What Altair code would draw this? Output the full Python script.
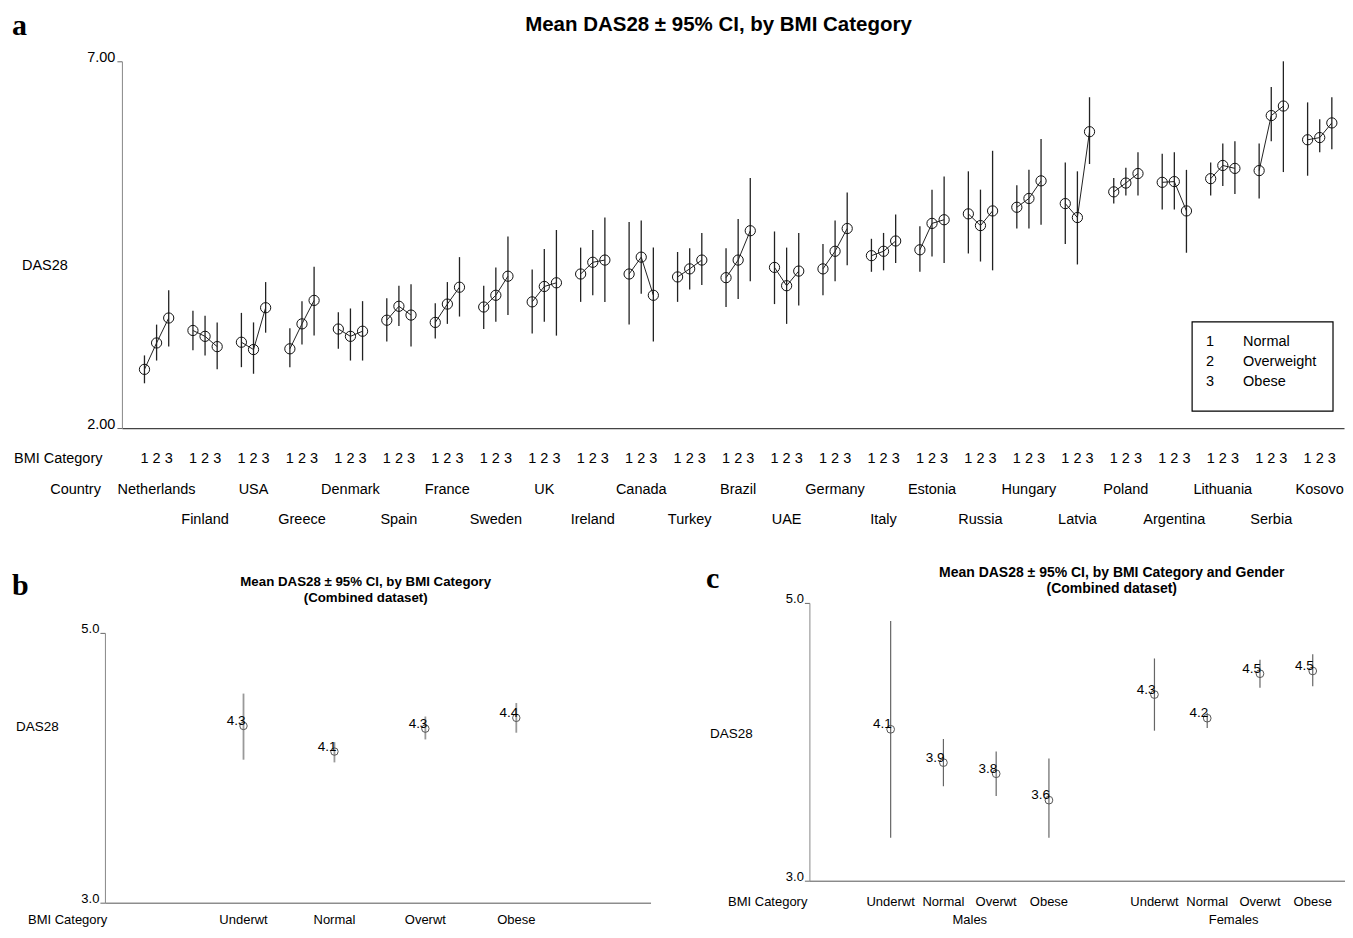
import altair as alt
import pandas as pd

FONT = "Liberation Sans"
SERIF = "Liberation Serif"

# ---------------- data: panel a ----------------
countries = ["Netherlands", "Finland", "USA", "Greece", "Denmark", "Spain", "France",
             "Sweden", "UK", "Ireland", "Canada", "Turkey", "Brazil", "UAE", "Germany",
             "Italy", "Estonia", "Russia", "Hungary", "Latvia", "Poland", "Argentina",
             "Lithuania", "Serbia", "Kosovo"]
bmi_codes = ["1", "2", "3"]
bmi_names = ["Normal", "Overweight", "Obese"]

mean_normal = [2.80, 3.33, 3.17, 3.08, 3.35, 3.47, 3.44, 3.65, 3.72, 4.10, 4.10, 4.06, 4.05,
               4.19, 4.17, 4.35, 4.43, 4.92, 5.01, 5.06, 5.22, 5.35, 5.40, 5.51, 5.93]
mean_overweight = [3.16, 3.25, 3.07, 3.42, 3.25, 3.66, 3.69, 3.81, 3.93, 4.26, 4.33, 4.17, 4.29,
                   3.94, 4.41, 4.41, 4.79, 4.76, 5.13, 4.87, 5.34, 5.36, 5.58, 6.26, 5.96]
mean_obese = [3.50, 3.11, 3.64, 3.74, 3.32, 3.54, 3.92, 4.07, 3.98, 4.29, 3.81, 4.29, 4.69,
              4.14, 4.72, 4.55, 4.84, 4.96, 5.37, 6.04, 5.47, 4.96, 5.54, 6.39, 6.16]

lo_normal = [2.61, 3.06, 2.83, 2.83, 3.08, 3.18, 3.22, 3.35, 3.29, 3.72, 3.41, 3.72, 3.65,
             3.69, 3.81, 4.13, 4.13, 4.38, 4.72, 4.51, 5.06, 4.98, 5.17, 5.13, 5.44]
hi_normal = [2.99, 3.60, 3.57, 3.36, 3.58, 3.77, 3.70, 3.94, 4.16, 4.46, 4.81, 4.40, 4.45,
             4.68, 4.51, 4.58, 4.75, 5.50, 5.31, 5.62, 5.41, 5.74, 5.62, 5.88, 6.44]
lo_overweight = [2.92, 2.99, 2.74, 3.14, 2.92, 3.39, 3.42, 3.45, 3.45, 3.81, 3.83, 3.89, 3.76,
                 3.42, 4.00, 4.15, 4.34, 4.27, 4.72, 4.23, 5.17, 4.98, 5.30, 5.91, 5.76]
hi_overweight = [3.41, 3.53, 3.44, 3.73, 3.63, 3.94, 3.99, 4.19, 4.44, 4.70, 4.83, 4.45, 4.85,
                 4.46, 4.83, 4.66, 5.25, 5.25, 5.52, 5.50, 5.55, 5.76, 5.88, 6.65, 6.21]
lo_obese = [3.11, 2.80, 3.30, 3.26, 2.92, 3.11, 3.52, 3.54, 3.26, 3.72, 3.18, 3.95, 4.00,
            3.67, 4.22, 4.25, 4.25, 4.15, 4.77, 5.60, 5.17, 4.39, 5.19, 5.49, 5.80]
hi_obese = [3.88, 3.44, 3.99, 4.20, 3.73, 3.96, 4.33, 4.61, 4.70, 4.87, 4.46, 4.66, 5.41,
            4.66, 5.21, 4.91, 5.43, 5.78, 5.94, 6.51, 5.76, 5.52, 5.91, 7.00, 6.51]

# ---------------- data: panel b ----------------
b_cats = ["Underwt", "Normal", "Overwt", "Obese"]
b_mean = [4.31, 4.12, 4.29, 4.37]
b_lo = [4.06, 4.04, 4.21, 4.26]
b_hi = [4.55, 4.19, 4.38, 4.48]
b_labels = ["4.3", "4.1", "4.3", "4.4"]

# ---------------- data: panel c ----------------
c_genders = ["Males", "Females"]
c_cats = ["Underwt", "Normal", "Overwt", "Obese"]
c_mean = [4.09, 3.85, 3.77, 3.58, 4.34, 4.17, 4.49, 4.51]
c_lo = [3.31, 3.68, 3.61, 3.31, 4.08, 4.10, 4.39, 4.40]
c_hi = [4.87, 4.02, 3.93, 3.88, 4.60, 4.21, 4.59, 4.63]
c_labels = ["4.1", "3.9", "3.8", "3.6", "4.3", "4.2", "4.5", "4.5"]

# ---------------- texts ----------------
title_a = "Mean DAS28 \u00b1 95% CI, by BMI Category"
title_b = ["Mean DAS28 \u00b1 95% CI, by BMI Category", "(Combined dataset)"]
title_c = ["Mean DAS28 \u00b1 95% CI, by BMI Category and Gender", "(Combined dataset)"]
y_title = "DAS28"
x_title = "BMI Category"
country_title = "Country"


# ---------------- helpers ----------------
def frame(x1, x2, y1, y2):
    return alt.Chart(pd.DataFrame({"f": [0]})).mark_rect(
        fillOpacity=0, strokeOpacity=0).encode(
        x=alt.value(x1), x2=alt.value(x2), y=alt.value(y1), y2=alt.value(y2))


def label(text, x, y, size=14.5, align="left", baseline="middle", weight="normal",
          font=FONT, color="black", line_height=None):
    kw = dict(align=align, baseline=baseline, fontSize=size, fontWeight=weight,
              font=font, color=color)
    if line_height is not None:
        kw["lineBreak"] = "\n"
        kw["lineHeight"] = line_height
    return alt.Chart(pd.DataFrame({"t": [text]})).mark_text(**kw).encode(
        x=alt.value(x), y=alt.value(y), text="t:N")


# ================= panel a =================
means = [mean_normal, mean_overweight, mean_obese]
los = [lo_normal, lo_overweight, lo_obese]
his = [hi_normal, hi_overweight, hi_obese]
rows = []
for i, c in enumerate(countries):
    for k in range(3):
        rows.append({"country": c, "idx": i, "bmi": bmi_codes[k], "k": k,
                     "mean": means[k][i], "lo": los[k][i], "hi": his[k][i]})
dfa = pd.DataFrame(rows)
dfa["pos"] = dfa["idx"] + (dfa["k"] - 1) * 0.25
dfc = pd.DataFrame({"country": countries, "idx": list(range(len(countries)))})

AW, AH, AOFF = 1240, 367, 17
xa = alt.Scale(domain=[-0.7155, -0.7155 + (AW - AOFF) / 48.5], range=[AOFF, AW],
               nice=False, zero=False)
ya = alt.Scale(domain=[2, 7], nice=False, zero=False)
x_axis_a = alt.Axis(title=None, labels=False, ticks=False, domain=True,
                    domainColor="#444", domainWidth=1.2, grid=False)
y_axis_a = alt.Axis(title=None, values=[2, 7], format=".2f", labelFontSize=14.5,
                    labelFont=FONT, labelColor="black", labelBaseline="alphabetic",
                    tickSize=5, tickColor="#666", domainColor="#888", labelPadding=2,
                    grid=False, offset=-AOFF)

base_a = alt.Chart(dfa)
err_a = base_a.mark_rule(color="#222", strokeWidth=1.3).encode(
    x=alt.X("pos:Q", scale=xa, axis=x_axis_a),
    y=alt.Y("lo:Q", scale=ya, axis=y_axis_a), y2="hi:Q")
line_a = base_a.mark_line(color="#222", strokeWidth=1).encode(
    x="pos:Q", y="mean:Q", detail="country:N", order="pos:Q")
pt_a = base_a.mark_point(shape="circle", filled=False, color="#111", size=105,
                         strokeWidth=1, opacity=1).encode(x="pos:Q", y="mean:Q")
code_a = base_a.mark_text(fontSize=14.5, baseline="middle", font=FONT, color="black").encode(
    x="pos:Q", y=alt.value(398), text="bmi:N")
cn_even = alt.Chart(dfc).transform_filter("datum.idx % 2 == 0").mark_text(
    fontSize=14.5, baseline="middle", font=FONT, color="black").encode(
    x="idx:Q", y=alt.value(429), text="country:N")
cn_odd = alt.Chart(dfc).transform_filter("datum.idx % 2 == 1").mark_text(
    fontSize=14.5, baseline="middle", font=FONT, color="black").encode(
    x="idx:Q", y=alt.value(459), text="country:N")

leg_box = alt.Chart(pd.DataFrame({"f": [0]})).mark_rect(
    fill="white", stroke="black", strokeWidth=1.2).encode(
    x=alt.value(1088), x2=alt.value(1229), y=alt.value(260.7), y2=alt.value(350))
leg_codes = label("\n".join(bmi_codes), 1106, 281.3, align="center", line_height=20)
leg_names = label("\n".join(bmi_names), 1139, 281.3, align="left", line_height=20)

chart_a = alt.layer(
    frame(-97, AW, -53, 479),
    err_a, line_a, pt_a, code_a, cn_even, cn_odd,
    leg_box, leg_codes, leg_names,
    label(x_title, -91, 398),
    label(country_title, -4, 429, align="right"),
    label(y_title, -83, 205),
    label(title_a, 614, -36, size=20.5, align="center", weight="bold"),
    label("a", -93, -26, size=30, baseline="alphabetic", weight="bold", font=SERIF),
).properties(width=AW, height=AH)

# ================= panel b =================
dfb = pd.DataFrame({"cat": b_cats, "mean": b_mean, "lo": b_lo, "hi": b_hi,
                    "lab": b_labels, "pos": list(range(len(b_cats)))})
BW, BH, BTOP = 546, 300, 30
xb = alt.Scale(domain=[-1.524, -1.524 + BW / 91.0], nice=False, zero=False)
yb = alt.Scale(domain=[3, 5], range=[BH, BTOP], nice=False, zero=False)
x_axis_bc = alt.Axis(title=None, labels=False, ticks=False, domain=True,
                     domainColor="#555", grid=False)


def y_axis_small():
    return alt.Axis(title=None, values=[3, 5], format=".1f", labelFontSize=13,
                    labelFont=FONT, labelColor="black", labelBaseline="alphabetic",
                    tickSize=5, tickColor="#666", domainColor="#888", labelPadding=1,
                    grid=False)


base_b = alt.Chart(dfb)
err_b = base_b.mark_rule(color="#999", strokeWidth=1.8).encode(
    x=alt.X("pos:Q", scale=xb, axis=x_axis_bc),
    y=alt.Y("lo:Q", scale=yb, axis=y_axis_small()), y2="hi:Q")
pt_b = base_b.mark_point(shape="circle", filled=False, color="#555", size=55,
                         strokeWidth=1, opacity=1).encode(x="pos:Q", y="mean:Q")
val_b = base_b.mark_text(align="right", baseline="alphabetic", dx=2, dy=-1,
                         fontSize=13.5, font=FONT, color="black").encode(
    x="pos:Q", y="mean:Q", text="lab:N")
cat_b = base_b.mark_text(baseline="middle", fontSize=13, font=FONT, color="black").encode(
    x="pos:Q", y=alt.value(317), text="cat:N")

chart_b = alt.layer(
    frame(-97, BW + 4, -43, 323),
    err_b, pt_b, val_b, cat_b,
    label(y_title, -89, 124, size=13.5),
    label(x_title, -77, 317, size=13),
    label(title_b[0], 261, -21, size=13.3, align="center", weight="bold"),
    label(title_b[1], 261, -5, size=13.3, align="center", weight="bold"),
    label("b", -93, -8, size=30, baseline="alphabetic", weight="bold", font=SERIF),
).properties(width=BW, height=BH)

# ================= panel c =================
crows = []
for g, gname in enumerate(c_genders):
    for k, cat in enumerate(c_cats):
        j = g * len(c_cats) + k
        crows.append({"gender": gname, "cat": cat, "mean": c_mean[j], "lo": c_lo[j],
                      "hi": c_hi[j], "lab": c_labels[j], "pos": k + g * (len(c_cats) + 1)})
dfcc = pd.DataFrame(crows)
dfg = dfcc.groupby("gender", sort=False)["pos"].mean().reset_index()

CW, CH = 536, 278
xc = alt.Scale(domain=[-1.54, -1.54 + CW / 52.8], nice=False, zero=False)
yc = alt.Scale(domain=[3, 5], nice=False, zero=False)

base_c = alt.Chart(dfcc)
err_c = base_c.mark_rule(color="#666", strokeWidth=1.2).encode(
    x=alt.X("pos:Q", scale=xc, axis=x_axis_bc),
    y=alt.Y("lo:Q", scale=yc, axis=y_axis_small()), y2="hi:Q")
pt_c = base_c.mark_point(shape="circle", filled=False, color="#555", size=60,
                         strokeWidth=1, opacity=1).encode(x="pos:Q", y="mean:Q")
val_c = base_c.mark_text(align="right", baseline="alphabetic", dx=1, dy=-1,
                         fontSize=13.5, font=FONT, color="black").encode(
    x="pos:Q", y="mean:Q", text="lab:N")
cat_c = base_c.mark_text(baseline="middle", fontSize=13, font=FONT, color="black").encode(
    x="pos:Q", y=alt.value(299), text="cat:N")
gen_c = alt.Chart(dfg).mark_text(baseline="middle", fontSize=13, font=FONT,
                                 color="black").encode(
    x="pos:Q", y=alt.value(317), text="gender:N")

chart_c = alt.layer(
    frame(-109.4, CW, -43, 323),
    err_c, pt_c, val_c, cat_c, gen_c,
    label(y_title, -99.4, 131.7, size=13.5),
    label(x_title, -81.4, 299, size=13),
    label(title_c[0], 302.6, -30, size=14, align="center", weight="bold"),
    label(title_c[1], 302.6, -14, size=14, align="center", weight="bold"),
    label("c", -103.4, -15.3, size=30, baseline="alphabetic", weight="bold", font=SERIF),
).properties(width=CW, height=CH)

bottom = alt.hconcat(chart_b, chart_c, spacing=45, bounds="full")
chart = alt.vconcat(chart_a, bottom, spacing=20, bounds="full").properties(
    padding=0, background="white"
).configure(font=FONT).configure_view(stroke=None)

chart.save("out.html", embed_options={"renderer": "svg", "actions": False})
